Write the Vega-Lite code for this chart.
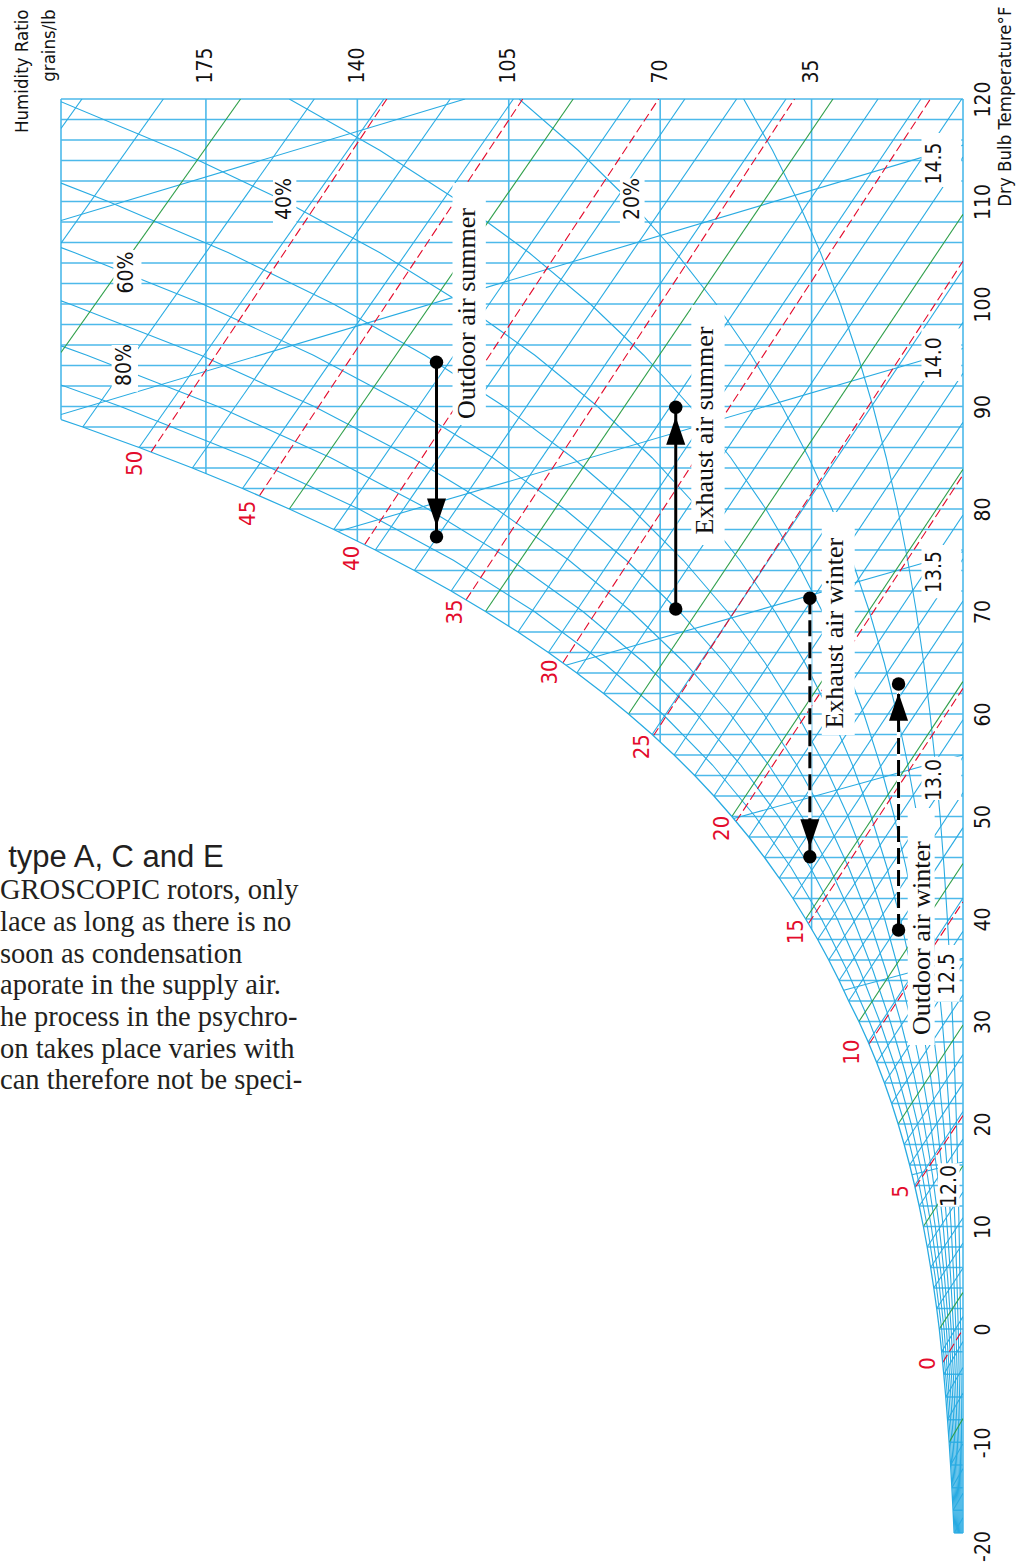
{
"$schema":"https://vega.github.io/schema/vega-lite/v6.json",
"width":902,"height":1456,
"autosize":{"type":"none"},
"padding":{"left":61,"top":99,"right":68,"bottom":9},
"background":"#ffffff",
"config":{"view":{"stroke":null}},
"datasets":{
"db":[{"T":-18},{"T":-16},{"T":-14},{"T":-12},{"T":-10},{"T":-8},{"T":-6},{"T":-4},{"T":-2},{"T":0},{"T":2},{"T":4},{"T":6},{"T":8},{"T":10},{"T":12},{"T":14},{"T":16},{"T":18},{"T":20},{"T":22},{"T":24},{"T":26},{"T":28},{"T":30},{"T":32},{"T":34},{"T":36},{"T":38},{"T":40},{"T":42},{"T":44},{"T":46},{"T":48},{"T":50},{"T":52},{"T":54},{"T":56},{"T":58},{"T":60},{"T":62},{"T":64},{"T":66},{"T":68},{"T":70},{"T":72},{"T":74},{"T":76},{"T":78},{"T":80},{"T":82},{"T":84},{"T":86},{"T":88},{"T":90},{"T":92},{"T":94},{"T":96},{"T":98},{"T":100},{"T":102},{"T":104},{"T":106},{"T":108},{"T":110},{"T":112},{"T":114},{"T":116},{"T":118},{"T":120}],
"wl":[{"W":0,"T0":-18},{"W":35,"T0":-18},{"W":70,"T0":-18},{"W":105,"T0":-18},{"W":140,"T0":-18},{"W":175,"T0":-18},{"W":208.5,"T0":88.72}],
"sat":[{"T":-20,"W":1.832},{"T":-18,"W":2.052},{"T":-16,"W":2.297},{"T":-14,"W":2.569},{"T":-12,"W":2.869},{"T":-10,"W":3.205},{"T":-8,"W":3.575},{"T":-6,"W":3.987},{"T":-4,"W":4.439},{"T":-2,"W":4.933},{"T":0,"W":5.482},{"T":2,"W":6.082},{"T":4,"W":6.75},{"T":6,"W":7.479},{"T":8,"W":8.277},{"T":10,"W":9.159},{"T":12,"W":10.118},{"T":14,"W":11.178},{"T":16,"W":12.335},{"T":18,"W":13.597},{"T":20,"W":14.986},{"T":22,"W":16.493},{"T":24,"W":18.147},{"T":26,"W":19.953},{"T":28,"W":21.912},{"T":30,"W":24.062},{"T":32,"W":26.424},{"T":34,"W":28.64},{"T":36,"W":31.03},{"T":38,"W":33.59},{"T":40,"W":36.366},{"T":42,"W":39.3},{"T":44,"W":42.48},{"T":46,"W":45.88},{"T":48,"W":49.51},{"T":50,"W":53.425},{"T":52,"W":57.57},{"T":54,"W":62.02},{"T":56,"W":66.78},{"T":58,"W":71.86},{"T":60,"W":77.313},{"T":62,"W":83.07},{"T":64,"W":89.26},{"T":66,"W":95.84},{"T":68,"W":102.86},{"T":70,"W":110.38},{"T":72,"W":118.32},{"T":74,"W":126.82},{"T":76,"W":135.84},{"T":78,"W":145.44},{"T":80,"W":155.72},{"T":82,"W":166.55},{"T":84,"W":178.14},{"T":86,"W":190.44},{"T":88,"W":203.48},{"T":88.72,"W":208.5}],
"rh":[
{"r":10,"T":-18,"W":0.205},{"r":10,"T":-15,"W":0.243},{"r":10,"T":-10,"W":0.321},{"r":10,"T":-5,"W":0.421},{"r":10,"T":0,"W":0.548},{"r":10,"T":5,"W":0.711},{"r":10,"T":10,"W":0.916},{"r":10,"T":15,"W":1.175},{"r":10,"T":20,"W":1.499},{"r":10,"T":25,"W":1.904},{"r":10,"T":30,"W":2.394},{"r":10,"T":35,"W":2.964},{"r":10,"T":40,"W":3.61},{"r":10,"T":45,"W":4.377},{"r":10,"T":50,"W":5.284},{"r":10,"T":55,"W":6.354},{"r":10,"T":60,"W":7.61},{"r":10,"T":65,"W":9.078},{"r":10,"T":70,"W":10.791},{"r":10,"T":75,"W":12.782},{"r":10,"T":80,"W":15.086},{"r":10,"T":85,"W":17.748},{"r":10,"T":90,"W":20.809},{"r":10,"T":95,"W":24.323},{"r":10,"T":100,"W":28.342},{"r":10,"T":105,"W":32.925},{"r":10,"T":110,"W":38.132},{"r":10,"T":115,"W":44.032},{"r":10,"T":120,"W":50.701},
{"r":20,"T":-18,"W":0.41},{"r":20,"T":-15,"W":0.486},{"r":20,"T":-10,"W":0.641},{"r":20,"T":-5,"W":0.842},{"r":20,"T":0,"W":1.096},{"r":20,"T":5,"W":1.422},{"r":20,"T":10,"W":1.832},{"r":20,"T":15,"W":2.35},{"r":20,"T":20,"W":2.997},{"r":20,"T":25,"W":3.808},{"r":20,"T":30,"W":4.791},{"r":20,"T":35,"W":5.932},{"r":20,"T":40,"W":7.225},{"r":20,"T":45,"W":8.762},{"r":20,"T":50,"W":10.581},{"r":20,"T":55,"W":12.726},{"r":20,"T":60,"W":15.246},{"r":20,"T":65,"W":18.194},{"r":20,"T":70,"W":21.636},{"r":20,"T":75,"W":25.639},{"r":20,"T":80,"W":30.278},{"r":20,"T":85,"W":35.64},{"r":20,"T":90,"W":41.819},{"r":20,"T":95,"W":48.92},{"r":20,"T":100,"W":57.056},{"r":20,"T":105,"W":66.352},{"r":20,"T":110,"W":76.939},{"r":20,"T":115,"W":88.965},{"r":20,"T":120,"W":102.6},
{"r":30,"T":-18,"W":0.616},{"r":30,"T":-15,"W":0.729},{"r":30,"T":-10,"W":0.962},{"r":30,"T":-5,"W":1.263},{"r":30,"T":0,"W":1.645},{"r":30,"T":5,"W":2.133},{"r":30,"T":10,"W":2.748},{"r":30,"T":15,"W":3.525},{"r":30,"T":20,"W":4.496},{"r":30,"T":25,"W":5.712},{"r":30,"T":30,"W":7.191},{"r":30,"T":35,"W":8.904},{"r":30,"T":40,"W":10.847},{"r":30,"T":45,"W":13.157},{"r":30,"T":50,"W":15.891},{"r":30,"T":55,"W":19.117},{"r":30,"T":60,"W":22.909},{"r":30,"T":65,"W":27.349},{"r":30,"T":70,"W":32.535},{"r":30,"T":75,"W":38.572},{"r":30,"T":80,"W":45.575},{"r":30,"T":85,"W":53.68},{"r":30,"T":90,"W":63.031},{"r":30,"T":95,"W":73.795},{"r":30,"T":100,"W":86.147},{"r":30,"T":105,"W":100.29},{"r":30,"T":110,"W":116.44},{"r":30,"T":115,"W":134.83},{"r":30,"T":120,"W":155.73},
{"r":40,"T":-18,"W":0.821},{"r":40,"T":-15,"W":0.972},{"r":40,"T":-10,"W":1.282},{"r":40,"T":-5,"W":1.684},{"r":40,"T":0,"W":2.193},{"r":40,"T":5,"W":2.844},{"r":40,"T":10,"W":3.664},{"r":40,"T":15,"W":4.7},{"r":40,"T":20,"W":5.994},{"r":40,"T":25,"W":7.616},{"r":40,"T":30,"W":9.594},{"r":40,"T":35,"W":11.881},{"r":40,"T":40,"W":14.474},{"r":40,"T":45,"W":17.56},{"r":40,"T":50,"W":21.214},{"r":40,"T":55,"W":25.526},{"r":40,"T":60,"W":30.599},{"r":40,"T":65,"W":36.542},{"r":40,"T":70,"W":43.489},{"r":40,"T":75,"W":51.582},{"r":40,"T":80,"W":60.979},{"r":40,"T":85,"W":71.868},{"r":40,"T":90,"W":84.449},{"r":40,"T":95,"W":98.952},{"r":40,"T":100,"W":115.63},{"r":40,"T":105,"W":134.76},{"r":40,"T":110,"W":156.64},{"r":40,"T":115,"W":181.64},{"r":40,"T":119.73,"W":208.5},
{"r":50,"T":-18,"W":1.026},{"r":50,"T":-15,"W":1.216},{"r":50,"T":-10,"W":1.603},{"r":50,"T":-5,"W":2.106},{"r":50,"T":0,"W":2.741},{"r":50,"T":5,"W":3.555},{"r":50,"T":10,"W":4.58},{"r":50,"T":15,"W":5.875},{"r":50,"T":20,"W":7.493},{"r":50,"T":25,"W":9.52},{"r":50,"T":30,"W":11.999},{"r":50,"T":35,"W":14.861},{"r":50,"T":40,"W":18.108},{"r":50,"T":45,"W":21.972},{"r":50,"T":50,"W":26.55},{"r":50,"T":55,"W":31.954},{"r":50,"T":60,"W":38.316},{"r":50,"T":65,"W":45.773},{"r":50,"T":70,"W":54.497},{"r":50,"T":75,"W":64.669},{"r":50,"T":80,"W":76.492},{"r":50,"T":85,"W":90.208},{"r":50,"T":90,"W":106.07},{"r":50,"T":95,"W":124.4},{"r":50,"T":100,"W":145.5},{"r":50,"T":105,"W":169.76},{"r":50,"T":110,"W":197.58},{"r":50,"T":111.8,"W":208.5},
{"r":60,"T":-18,"W":1.231},{"r":60,"T":-15,"W":1.459},{"r":60,"T":-10,"W":1.923},{"r":60,"T":-5,"W":2.527},{"r":60,"T":0,"W":3.289},{"r":60,"T":5,"W":4.266},{"r":60,"T":10,"W":5.495},{"r":60,"T":15,"W":7.049},{"r":60,"T":20,"W":8.992},{"r":60,"T":25,"W":11.423},{"r":60,"T":30,"W":14.408},{"r":60,"T":35,"W":17.845},{"r":60,"T":40,"W":21.747},{"r":60,"T":45,"W":26.392},{"r":60,"T":50,"W":31.898},{"r":60,"T":55,"W":38.402},{"r":60,"T":60,"W":46.06},{"r":60,"T":65,"W":55.043},{"r":60,"T":70,"W":65.561},{"r":60,"T":75,"W":77.834},{"r":60,"T":80,"W":92.114},{"r":60,"T":85,"W":108.7},{"r":60,"T":90,"W":127.91},{"r":60,"T":95,"W":150.14},{"r":60,"T":100,"W":175.77},{"r":60,"T":105,"W":205.31},{"r":60,"T":105.5,"W":208.5},
{"r":70,"T":-18,"W":1.436},{"r":70,"T":-15,"W":1.702},{"r":70,"T":-10,"W":2.244},{"r":70,"T":-5,"W":2.948},{"r":70,"T":0,"W":3.837},{"r":70,"T":5,"W":4.977},{"r":70,"T":10,"W":6.411},{"r":70,"T":15,"W":8.224},{"r":70,"T":20,"W":10.49},{"r":70,"T":25,"W":13.327},{"r":70,"T":30,"W":16.819},{"r":70,"T":35,"W":20.834},{"r":70,"T":40,"W":25.393},{"r":70,"T":45,"W":30.823},{"r":70,"T":50,"W":37.261},{"r":70,"T":55,"W":44.868},{"r":70,"T":60,"W":53.832},{"r":70,"T":65,"W":64.353},{"r":70,"T":70,"W":76.68},{"r":70,"T":75,"W":91.077},{"r":70,"T":80,"W":107.85},{"r":70,"T":85,"W":127.35},{"r":70,"T":90,"W":149.97},{"r":70,"T":95,"W":176.17},{"r":70,"T":100,"W":206.46},{"r":70,"T":100.31,"W":208.5},
{"r":80,"T":-18,"W":1.642},{"r":80,"T":-15,"W":1.945},{"r":80,"T":-10,"W":2.564},{"r":80,"T":-5,"W":3.369},{"r":80,"T":0,"W":4.386},{"r":80,"T":5,"W":5.688},{"r":80,"T":10,"W":7.327},{"r":80,"T":15,"W":9.399},{"r":80,"T":20,"W":11.989},{"r":80,"T":25,"W":15.231},{"r":80,"T":30,"W":19.233},{"r":80,"T":35,"W":23.827},{"r":80,"T":40,"W":29.045},{"r":80,"T":45,"W":35.261},{"r":80,"T":50,"W":42.636},{"r":80,"T":55,"W":51.353},{"r":80,"T":60,"W":61.631},{"r":80,"T":65,"W":73.702},{"r":80,"T":70,"W":87.856},{"r":80,"T":75,"W":104.4},{"r":80,"T":80,"W":123.69},{"r":80,"T":85,"W":146.15},{"r":80,"T":90,"W":172.24},{"r":80,"T":95,"W":202.51},{"r":80,"T":95.92,"W":208.5},
{"r":90,"T":-18,"W":1.847},{"r":90,"T":-15,"W":2.188},{"r":90,"T":-10,"W":2.885},{"r":90,"T":-5,"W":3.79},{"r":90,"T":0,"W":4.934},{"r":90,"T":5,"W":6.399},{"r":90,"T":10,"W":8.243},{"r":90,"T":15,"W":10.574},{"r":90,"T":20,"W":13.487},{"r":90,"T":25,"W":17.135},{"r":90,"T":30,"W":21.65},{"r":90,"T":35,"W":26.824},{"r":90,"T":40,"W":32.702},{"r":90,"T":45,"W":39.709},{"r":90,"T":50,"W":48.024},{"r":90,"T":55,"W":57.858},{"r":90,"T":60,"W":69.458},{"r":90,"T":65,"W":83.09},{"r":90,"T":70,"W":99.087},{"r":90,"T":75,"W":117.8},{"r":90,"T":80,"W":139.65},{"r":90,"T":85,"W":165.11},{"r":90,"T":90,"W":194.73},{"r":90,"T":92.1,"W":208.5}],
"wb":[{"twb":-18,"W":2.052,"T":-18,"W2":0,"T2":-16.65},{"twb":-16,"W":2.297,"T":-16,"W2":0,"T2":-14.49},{"twb":-14,"W":2.569,"T":-14,"W2":0,"T2":-12.32},{"twb":-12,"W":2.869,"T":-12,"W2":0,"T2":-10.12},{"twb":-10,"W":3.205,"T":-10,"W2":0,"T2":-7.9},{"twb":-8,"W":3.575,"T":-8,"W2":0,"T2":-5.66},{"twb":-6,"W":3.987,"T":-6,"W2":0,"T2":-3.4},{"twb":-4,"W":4.439,"T":-4,"W2":0,"T2":-1.11},{"twb":-2,"W":4.933,"T":-2,"W2":0,"T2":1.21},{"twb":0,"W":5.482,"T":0,"W2":0,"T2":3.57},{"twb":2,"W":6.082,"T":2,"W2":0,"T2":5.95},{"twb":4,"W":6.75,"T":4,"W2":0,"T2":8.38},{"twb":6,"W":7.479,"T":6,"W2":0,"T2":10.85},{"twb":8,"W":8.277,"T":8,"W2":0,"T2":13.36},{"twb":10,"W":9.159,"T":10,"W2":0,"T2":15.93},{"twb":12,"W":10.118,"T":12,"W2":0,"T2":18.54},{"twb":14,"W":11.178,"T":14,"W2":0,"T2":21.22},{"twb":16,"W":12.335,"T":16,"W2":0,"T2":23.96},{"twb":18,"W":13.597,"T":18,"W2":0,"T2":26.77},{"twb":20,"W":14.986,"T":20,"W2":0,"T2":29.65},{"twb":22,"W":16.493,"T":22,"W2":0,"T2":32.61},{"twb":24,"W":18.147,"T":24,"W2":0,"T2":35.66},{"twb":26,"W":19.953,"T":26,"W2":0,"T2":38.81},{"twb":28,"W":21.912,"T":28,"W2":0,"T2":42.05},{"twb":30,"W":24.062,"T":30,"W2":0,"T2":45.42},{"twb":32,"W":26.424,"T":32,"W2":0,"T2":48.91},{"twb":34,"W":28.64,"T":34,"W2":0,"T2":52.31},{"twb":36,"W":31.03,"T":36,"W2":0,"T2":55.82},{"twb":38,"W":33.59,"T":38,"W2":0,"T2":59.43},{"twb":40,"W":36.366,"T":40,"W2":0,"T2":63.18},{"twb":42,"W":39.3,"T":42,"W2":0,"T2":67.02},{"twb":44,"W":42.48,"T":44,"W2":0,"T2":71.02},{"twb":46,"W":45.88,"T":46,"W2":0,"T2":75.15},{"twb":48,"W":49.51,"T":48,"W2":0,"T2":79.42},{"twb":50,"W":53.425,"T":50,"W2":0,"T2":83.87},{"twb":52,"W":57.57,"T":52,"W2":0,"T2":88.46},{"twb":54,"W":62.02,"T":54,"W2":0,"T2":93.24},{"twb":56,"W":66.78,"T":56,"W2":0,"T2":98.21},{"twb":58,"W":71.86,"T":58,"W2":0,"T2":103.37},{"twb":60,"W":77.313,"T":60,"W2":0,"T2":108.76},{"twb":62,"W":83.07,"T":62,"W2":0,"T2":114.34},{"twb":64,"W":89.26,"T":64,"W2":0.28,"T2":120},{"twb":66,"W":95.84,"T":66,"W2":9.73,"T2":120},{"twb":68,"W":102.86,"T":68,"W2":19.64,"T2":120},{"twb":70,"W":110.38,"T":70,"W2":30.06,"T2":120},{"twb":72,"W":118.32,"T":72,"W2":40.91,"T2":120},{"twb":74,"W":126.82,"T":74,"W2":52.33,"T2":120},{"twb":76,"W":135.84,"T":76,"W2":64.29,"T2":120},{"twb":78,"W":145.44,"T":78,"W2":76.85,"T2":120},{"twb":80,"W":155.72,"T":80,"W2":90.1,"T2":120},{"twb":82,"W":166.55,"T":82,"W2":103.93,"T2":120},{"twb":84,"W":178.14,"T":84,"W2":118.53,"T2":120},{"twb":86,"W":190.44,"T":86,"W2":133.86,"T2":120},{"twb":88,"W":203.48,"T":88,"W2":149.95,"T2":120},{"twb":90,"W":208.5,"T":95.27,"W2":166.99,"T2":120},{"twb":92,"W":208.5,"T":105.93,"W2":184.84,"T2":120},{"twb":94,"W":208.5,"T":117.12,"W2":203.65,"T2":120}],
"enth":[{"h":0,"W":4.69,"T":-2.96,"W2":0,"T2":0},{"h":5,"W":11.07,"T":13.8,"W2":0,"T2":20.83},{"h":10,"W":21.71,"T":27.8,"W2":0,"T2":41.67},{"h":15,"W":35.74,"T":39.55,"W2":0,"T2":62.5},{"h":20,"W":52.47,"T":49.51,"W2":0,"T2":83.33},{"h":25,"W":71.56,"T":57.88,"W2":0,"T2":104.17},{"h":30,"W":92.5,"T":64.99,"W2":7.54,"T2":120},{"h":35,"W":114.87,"T":71.13,"W2":38.95,"T2":120},{"h":40,"W":138.32,"T":76.52,"W2":70.36,"T2":120},{"h":45,"W":162.65,"T":81.28,"W2":101.77,"T2":120},{"h":50,"W":187.69,"T":85.55,"W2":133.18,"T2":120}],
"vol":[{"v":12.0,"W":0,"T":16.3,"W2":11.78,"T2":15.05},{"v":12.5,"W":0,"T":36.17,"W2":27.55,"T2":33.05},{"v":13.0,"W":0,"T":56.0,"W2":53.0,"T2":49.8},{"v":13.5,"W":0,"T":75.83,"W2":91.8,"T2":64.76},{"v":14.0,"W":0,"T":95.66,"W2":144.5,"T2":77.8},{"v":14.5,"W":0,"T":115.5,"W2":208.5,"T2":89.22},{"v":15.0,"W":115.1,"T":120,"W2":208.5,"T2":108.14}],
"boxes":[{"W":196.8,"W2":190.7,"T":96.0,"T2":91.44},{"W":196.4,"W2":189.9,"T":105.27,"T2":101.04},{"W":159.5,"W2":154.1,"T":112.26,"T2":107.87},{"W":79.3,"W2":73.6,"T":112.26,"T2":107.71},{"W":9.6,"W2":0.4,"T":116.68,"T2":111.41},{"W":9.6,"W2":0.4,"T":97.6,"T2":92.5},{"W":9.6,"W2":0.4,"T":76.5,"T2":71.3},{"W":9.6,"W2":0.4,"T":55.84,"T2":51.61},{"W":6.5,"W2":0.8,"T":37.46,"T2":31.93},{"W":5.8,"W2":0.8,"T":16.16,"T2":11.93},{"W":118.0,"W2":110.3,"T":111.8,"T2":88.2},{"W":62.8,"W2":55.1,"T":99.9,"T2":76.5},{"W":32.65,"W2":25.03,"T":79.71,"T2":57.95},{"W":12.78,"W2":6.55,"T":50.83,"T2":27.71}],
"labels":[{"text":"80%","kind":"rh","W":193.7,"T":94.05},{"text":"60%","kind":"rh","W":193.2,"T":103.07},{"text":"40%","kind":"rh","W":156.8,"T":110.24},{"text":"20%","kind":"rh","W":76.3,"T":110.24},{"text":"14.5","kind":"vol","W":6.55,"T":113.7},{"text":"14.0","kind":"vol","W":6.55,"T":94.7},{"text":"13.5","kind":"vol","W":6.55,"T":73.85},{"text":"13.0","kind":"vol","W":6.55,"T":53.56},{"text":"12.5","kind":"vol","W":3.42,"T":34.63},{"text":"12.0","kind":"vol","W":3.07,"T":13.95},{"text":"50","kind":"h","W":191.4,"T":84.46},{"text":"45","kind":"h","W":165.2,"T":79.58},{"text":"40","kind":"h","W":141.3,"T":75.19},{"text":"35","kind":"h","W":117.5,"T":69.95},{"text":"30","kind":"h","W":95.5,"T":64.1},{"text":"25","kind":"h","W":74.3,"T":56.81},{"text":"20","kind":"h","W":55.8,"T":48.85},{"text":"15","kind":"h","W":38.5,"T":38.76},{"text":"10","kind":"h","W":25.7,"T":27.02},{"text":"5","kind":"h","W":14.4,"T":13.41},{"text":"0","kind":"h","W":8.1,"T":-3.04},{"text":"Outdoor air summer","kind":"proc","W":114.7,"T":99.07},{"text":"Exhaust air summer","kind":"proc","W":59.7,"T":87.66},{"text":"Exhaust air winter","kind":"proc","W":29.65,"T":67.88},{"text":"Outdoor air winter","kind":"proc","W":9.43,"T":38.13}],
"proc":[{"name":"Outdoor air summer","season":"summer","W":121.7,"T1":94.31,"T2":77.3,"Th":79.66},{"name":"Exhaust air summer","season":"summer","W":66.4,"T1":70.24,"T2":89.92,"Th":87.63},{"name":"Exhaust air winter","season":"winter","W":35.4,"T1":71.29,"T2":46.08,"Th":48.36},{"name":"Outdoor air winter","season":"winter","W":14.9,"T1":38.93,"T2":62.93,"Th":60.71}],
"para":[{"text":"type A, C and E","kind":"head","W":220.7,"T":45.07},{"text":"GROSCOPIC rotors, only","kind":"body","W":222.6,"T":41.96},{"text":"lace as long as there is no","kind":"body","W":222.6,"T":38.83},{"text":"soon as condensation","kind":"body","W":222.6,"T":35.71},{"text":"aporate in the supply air.","kind":"body","W":222.6,"T":32.69},{"text":"he process in the psychro-","kind":"body","W":222.6,"T":29.57},{"text":"on takes place varies with","kind":"body","W":222.6,"T":26.44},{"text":"can therefore not be speci-","kind":"body","W":222.6,"T":23.42}]
},
"layer":[
{"data":{"name":"db"},"mark":{"type":"rule","color":"#4cb9ea","strokeWidth":1.5},
 "encoding":{"y":{"field":"T","type":"quantitative","scale":{"domain":[-20,-18,0,120],"range":[1447,1434,1230,0],"nice":false,"zero":false},
  "axis":{"orient":"right","values":[-20,-10,0,10,20,30,40,50,60,70,80,90,100,110,120],"labelExpr":"'' + datum.value","domain":false,"ticks":false,"grid":false,"labelOverlap":false,"labelFlush":false,"labelAngle":270,"labelAlign":"center","labelBaseline":"top","labelPadding":9,"labelFont":"Liberation Sans Narrow, Arial Narrow, DejaVu Sans Condensed, Liberation Sans, sans-serif","labelFontSize":21,"labelColor":"#111111","title":"Dry Bulb Temperature°F","titleFont":"Liberation Sans Narrow, Arial Narrow, DejaVu Sans Condensed, Liberation Sans, sans-serif","titleFontSize":18.5,"titleFontWeight":"normal","titleColor":"#111111","titleAngle":270,"titleAlign":"right","titleBaseline":"top","titleX":32,"titleY":-93}}}},
{"data":{"name":"wl"},"mark":{"type":"rule","color":"#4cb9ea","strokeWidth":1.6},
 "encoding":{"x":{"field":"W","type":"quantitative","scale":{"domain":[0,208.5],"reverse":true,"nice":false,"zero":false},
  "axis":{"orient":"top","values":[35,70,105,140,175],"domain":false,"ticks":false,"grid":false,"labelOverlap":false,"labelFlush":false,"labelAngle":270,"labelAlign":"left","labelBaseline":"middle","labelPadding":16,"labelFont":"Liberation Sans Narrow, Arial Narrow, DejaVu Sans Condensed, Liberation Sans, sans-serif","labelFontSize":21,"labelColor":"#111111","title":["Humidity Ratio","grains/lb"],"titleFont":"Liberation Sans Narrow, Arial Narrow, DejaVu Sans Condensed, Liberation Sans, sans-serif","titleFontSize":18.5,"titleFontWeight":"normal","titleColor":"#111111","titleAngle":270,"titleAlign":"right","titleBaseline":"top","titleX":-49,"titleY":-90,"titleLineHeight":27}},
  "y":{"field":"T0","type":"quantitative","scale":{"domain":[-20,-18,0,120],"range":[1447,1434,1230,0],"nice":false,"zero":false}},
  "y2":{"datum":120}}},
{"data":{"name":"rh"},"mark":{"type":"line","color":"#29abe2","strokeWidth":1.1,"clip":true},
 "encoding":{"x":{"field":"W","type":"quantitative","scale":{"domain":[0,208.5],"reverse":true,"nice":false,"zero":false}},
  "y":{"field":"T","type":"quantitative","scale":{"domain":[-20,-18,0,120],"range":[1447,1434,1230,0],"nice":false,"zero":false}},
  "detail":{"field":"r"},"order":{"field":"T"}}},
{"data":{"name":"vol"},"mark":{"type":"rule","color":"#29abe2","strokeWidth":1.1,"clip":true},
 "encoding":{"x":{"field":"W","type":"quantitative","scale":{"domain":[0,208.5],"reverse":true,"nice":false,"zero":false}},"x2":{"field":"W2"},
  "y":{"field":"T","type":"quantitative","scale":{"domain":[-20,-18,0,120],"range":[1447,1434,1230,0],"nice":false,"zero":false}},"y2":{"field":"T2"}}},
{"data":{"name":"wb"},"mark":{"type":"rule","strokeWidth":1.1,"clip":true},
 "encoding":{"x":{"field":"W","type":"quantitative","scale":{"domain":[0,208.5],"reverse":true,"nice":false,"zero":false}},"x2":{"field":"W2"},
  "y":{"field":"T","type":"quantitative","scale":{"domain":[-20,-18,0,120],"range":[1447,1434,1230,0],"nice":false,"zero":false}},"y2":{"field":"T2"},
  "color":{"condition":{"test":"datum.twb % 10 === 0","value":"#2f9f4a"},"value":"#29abe2"}}},
{"data":{"name":"enth"},"mark":{"type":"rule","color":"#e30b2c","strokeWidth":1.1,"strokeDash":[9,4],"clip":true},
 "encoding":{"x":{"field":"W","type":"quantitative","scale":{"domain":[0,208.5],"reverse":true,"nice":false,"zero":false}},"x2":{"field":"W2"},
  "y":{"field":"T","type":"quantitative","scale":{"domain":[-20,-18,0,120],"range":[1447,1434,1230,0],"nice":false,"zero":false}},"y2":{"field":"T2"}}},
{"data":{"name":"sat"},"mark":{"type":"area","orient":"horizontal","color":"#ffffff","opacity":1,"clip":true},
 "encoding":{"x":{"field":"W","type":"quantitative","scale":{"domain":[0,208.5],"reverse":true,"nice":false,"zero":false}},"x2":{"datum":209},
  "y":{"field":"T","type":"quantitative","scale":{"domain":[-20,-18,0,120],"range":[1447,1434,1230,0],"nice":false,"zero":false}}}},
{"data":{"name":"sat"},"transform":[{"filter":"datum.T >= -18"}],"mark":{"type":"line","color":"#29abe2","strokeWidth":1.3,"clip":true},
 "encoding":{"x":{"field":"W","type":"quantitative","scale":{"domain":[0,208.5],"reverse":true,"nice":false,"zero":false}},
  "y":{"field":"T","type":"quantitative","scale":{"domain":[-20,-18,0,120],"range":[1447,1434,1230,0],"nice":false,"zero":false}},"order":{"field":"T"}}},
{"data":{"name":"boxes"},"mark":{"type":"rect","color":"#ffffff"},
 "encoding":{"x":{"field":"W","type":"quantitative","scale":{"domain":[0,208.5],"reverse":true,"nice":false,"zero":false}},"x2":{"field":"W2"},
  "y":{"field":"T","type":"quantitative","scale":{"domain":[-20,-18,0,120],"range":[1447,1434,1230,0],"nice":false,"zero":false}},"y2":{"field":"T2"}}},
{"data":{"name":"labels"},"transform":[{"filter":"datum.kind === 'rh' || datum.kind === 'vol'"}],"mark":{"type":"text","angle":270,"align":"center","baseline":"middle","font":"Liberation Sans Narrow, Arial Narrow, DejaVu Sans Condensed, Liberation Sans, sans-serif","fontSize":21,"color":"#111111"},
 "encoding":{"x":{"field":"W","type":"quantitative","scale":{"domain":[0,208.5],"reverse":true,"nice":false,"zero":false}},
  "y":{"field":"T","type":"quantitative","scale":{"domain":[-20,-18,0,120],"range":[1447,1434,1230,0],"nice":false,"zero":false}},"text":{"field":"text"}}},
{"data":{"name":"labels"},"transform":[{"filter":"datum.kind === 'h'"}],"mark":{"type":"text","angle":270,"align":"center","baseline":"middle","font":"Liberation Sans Narrow, Arial Narrow, DejaVu Sans Condensed, Liberation Sans, sans-serif","fontSize":22,"color":"#e30b2c"},
 "encoding":{"x":{"field":"W","type":"quantitative","scale":{"domain":[0,208.5],"reverse":true,"nice":false,"zero":false}},
  "y":{"field":"T","type":"quantitative","scale":{"domain":[-20,-18,0,120],"range":[1447,1434,1230,0],"nice":false,"zero":false}},"text":{"field":"text"}}},
{"data":{"name":"labels"},"transform":[{"filter":"datum.kind === 'proc'"}],"mark":{"type":"text","angle":270,"align":"center","baseline":"middle","font":"Liberation Serif, DejaVu Serif, serif","fontSize":26,"color":"#111111"},
 "encoding":{"x":{"field":"W","type":"quantitative","scale":{"domain":[0,208.5],"reverse":true,"nice":false,"zero":false}},
  "y":{"field":"T","type":"quantitative","scale":{"domain":[-20,-18,0,120],"range":[1447,1434,1230,0],"nice":false,"zero":false}},"text":{"field":"text"}}},
{"data":{"name":"proc"},"mark":{"type":"rule","color":"#ffffff","strokeWidth":3.5},
 "encoding":{"x":{"field":"W","type":"quantitative","scale":{"domain":[0,208.5],"reverse":true,"nice":false,"zero":false}},
  "y":{"field":"T1","type":"quantitative","scale":{"domain":[-20,-18,0,120],"range":[1447,1434,1230,0],"nice":false,"zero":false}},"y2":{"field":"T2"}}},
{"data":{"name":"proc"},"mark":{"type":"rule","color":"#000000","strokeWidth":3},
 "encoding":{"x":{"field":"W","type":"quantitative","scale":{"domain":[0,208.5],"reverse":true,"nice":false,"zero":false}},
  "y":{"field":"T1","type":"quantitative","scale":{"domain":[-20,-18,0,120],"range":[1447,1434,1230,0],"nice":false,"zero":false}},"y2":{"field":"T2"},
  "strokeDash":{"condition":{"test":"datum.season === 'winter'","value":[16,6]},"value":[1,0]}}},
{"data":{"name":"proc"},"mark":{"type":"point","shape":"circle","filled":true,"color":"#000000","size":180,"opacity":1},
 "encoding":{"x":{"field":"W","type":"quantitative","scale":{"domain":[0,208.5],"reverse":true,"nice":false,"zero":false}},
  "y":{"field":"T1","type":"quantitative","scale":{"domain":[-20,-18,0,120],"range":[1447,1434,1230,0],"nice":false,"zero":false}}}},
{"data":{"name":"proc"},"mark":{"type":"point","shape":"circle","filled":true,"color":"#000000","size":180,"opacity":1},
 "encoding":{"x":{"field":"W","type":"quantitative","scale":{"domain":[0,208.5],"reverse":true,"nice":false,"zero":false}},
  "y":{"field":"T2","type":"quantitative","scale":{"domain":[-20,-18,0,120],"range":[1447,1434,1230,0],"nice":false,"zero":false}}}},
{"data":{"name":"proc"},"mark":{"type":"point","filled":true,"color":"#000000","size":784,"opacity":1},
 "encoding":{"x":{"field":"W","type":"quantitative","scale":{"domain":[0,208.5],"reverse":true,"nice":false,"zero":false}},
  "y":{"field":"Th","type":"quantitative","scale":{"domain":[-20,-18,0,120],"range":[1447,1434,1230,0],"nice":false,"zero":false}},
  "shape":{"condition":{"test":"datum.T2 > datum.T1","value":"M-0.68,1L0.68,1L0,-1Z"},"value":"M-0.68,-1L0.68,-1L0,1Z"}}},
{"data":{"name":"para"},"transform":[{"filter":"datum.kind === 'body'"}],"mark":{"type":"text","align":"left","baseline":"alphabetic","font":"Liberation Serif, DejaVu Serif, serif","fontSize":28.5,"color":"#231f20"},
 "encoding":{"x":{"field":"W","type":"quantitative","scale":{"domain":[0,208.5],"reverse":true,"nice":false,"zero":false}},
  "y":{"field":"T","type":"quantitative","scale":{"domain":[-20,-18,0,120],"range":[1447,1434,1230,0],"nice":false,"zero":false}},"text":{"field":"text"}}},
{"data":{"name":"para"},"transform":[{"filter":"datum.kind === 'head'"}],"mark":{"type":"text","align":"left","baseline":"alphabetic","font":"Liberation Sans, DejaVu Sans, sans-serif","fontSize":31,"color":"#231f20"},
 "encoding":{"x":{"field":"W","type":"quantitative","scale":{"domain":[0,208.5],"reverse":true,"nice":false,"zero":false}},
  "y":{"field":"T","type":"quantitative","scale":{"domain":[-20,-18,0,120],"range":[1447,1434,1230,0],"nice":false,"zero":false}},"text":{"field":"text"}}}
]
}
